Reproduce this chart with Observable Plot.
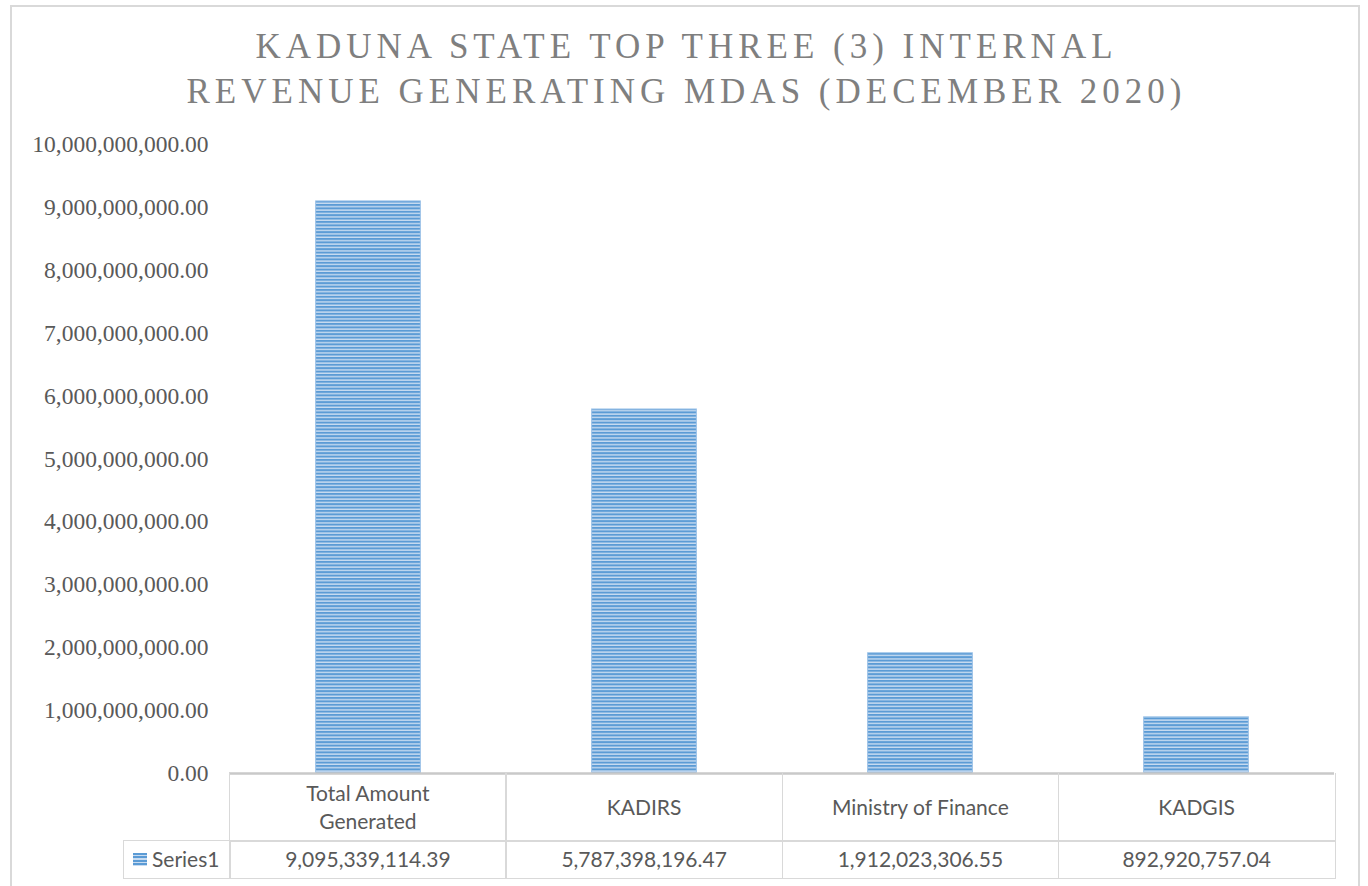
<!DOCTYPE html>
<html>
<head>
<meta charset="utf-8">
<script src="https://cdn.jsdelivr.net/npm/d3@7"></script>
<script src="https://cdn.jsdelivr.net/npm/@observablehq/plot@0.6"></script>
<style>
  html, body { margin: 0; padding: 0; background: #fff; overflow: hidden; }
  #chart { position: relative; width: 1368px; height: 886px; overflow: hidden; }
  #border { position: absolute; left: 10px; top: 5px; width: 1350px; height: 900px; border: 2px solid #d9d9d9; box-sizing: border-box; }
  .title { position: absolute; left: 0; width: 1368px; text-align: center; font-family: "Liberation Serif", serif; font-size: 35px; line-height: 45px; letter-spacing: 5px; color: #7f7f7f; white-space: nowrap; padding-left: 5px; box-sizing: border-box; }
  #plot { position: absolute; left: 0; top: 0; }
  .cell { position: absolute; box-sizing: border-box; border: 1.5px solid #d9d9d9; display: flex; align-items: center; justify-content: center; text-align: center; font-family: Lato, "Open Sans", sans-serif; font-size: 21px; line-height: 28px; color: #595959; }
  .cell span.wrap { max-width: 205px; }
  .key { display: inline-block; width: 14px; height: 13px; margin-right: 5px; background: repeating-linear-gradient(#5b9bd5 0 2px, #c9dcf1 2px 3.4px); }
</style>
</head>
<body>
<div id="chart">
  <div id="border"></div>
  <div id="plot"></div>
</div>
<script>
// ---- data ----
const titleLines = ["KADUNA STATE TOP THREE (3) INTERNAL", "REVENUE GENERATING MDAS (DECEMBER 2020)"];
const categories = ["Total Amount Generated", "KADIRS", "Ministry of Finance", "KADGIS"];
const values = [9095339114.39, 5787398196.47, 1912023306.55, 892920757.04];
const valueLabels = ["9,095,339,114.39", "5,787,398,196.47", "1,912,023,306.55", "892,920,757.04"];
const seriesName = "Series1";
const yTicks = [0, 1e9, 2e9, 3e9, 4e9, 5e9, 6e9, 7e9, 8e9, 9e9, 10e9];

const data = categories.map((c, i) => ({category: c, value: values[i]}));

// ---- layout ----
const W = 1368, H = 790;
const mL = 229, mR = 34, mT = 144, mB = H - 773;
const bw = (W - mL - mR) / categories.length;
const barW = 105;

const chart = Plot.plot({
  width: W,
  height: H,
  marginLeft: mL,
  marginRight: mR,
  marginTop: mT,
  marginBottom: mB,
  style: {background: "transparent", fontFamily: "'Liberation Serif', serif", fontSize: "23.5px", color: "#595959", overflow: "visible"},
  x: {domain: categories, padding: 0, axis: null},
  y: {domain: [0, 10e9]},
  marks: [
    Plot.axisY(yTicks, {tickFormat: d3.format(",.2f"), tickSize: 0, tickPadding: 21, label: null, fill: "#595959"}),
    Plot.barY(data, {x: "category", y: "value", fill: "url(#stripes)", stroke: "#9cc2e8", strokeWidth: 1, insetLeft: (bw - barW) / 2, insetRight: (bw - barW) / 2}),
    Plot.ruleY([0], {stroke: "#c9c9c9", strokeWidth: 2.5})
  ]
});

// stripe pattern
const svg = d3.select(chart);
const defs = svg.insert("defs", ":first-child");
const pat = defs.append("pattern").attr("id", "stripes").attr("patternUnits", "userSpaceOnUse")
  .attr("width", 8).attr("height", 3.4);
pat.append("rect").attr("width", 8).attr("height", 3.4).attr("fill", "#c9dcf1");
pat.append("rect").attr("width", 8).attr("height", 2).attr("fill", "#5b9bd5");

document.getElementById("plot").appendChild(chart);

// ---- title ----
const root = d3.select("#chart");
titleLines.forEach((t, i) => {
  root.append("div").attr("class", "title").style("top", (24 + i * 45) + "px").text(t);
});

// ---- data table ----
const y = chart.scale("y");
const axisY = Math.round(y.apply(0));
const row1Top = axisY, row1H = 67, row2H = 37;
const legendLeft = 123;

categories.forEach((c, i) => {
  const left = mL + i * bw;
  root.append("div").attr("class", "cell")
    .style("left", left + "px").style("top", row1Top + "px")
    .style("width", (bw + 1.5) + "px").style("height", (row1H + 1.5) + "px")
    .style("border-top", "none")
    .append("span").attr("class", "wrap").text(c);
  root.append("div").attr("class", "cell")
    .style("left", left + "px").style("top", (row1Top + row1H) + "px")
    .style("width", (bw + 1.5) + "px").style("height", (row2H + 1.5) + "px")
    .text(valueLabels[i]);
});
const leg = root.append("div").attr("class", "cell")
  .style("left", legendLeft + "px").style("top", (row1Top + row1H) + "px")
  .style("width", (mL - legendLeft + 1.5) + "px").style("height", (row2H + 1.5) + "px")
  .style("justify-content", "flex-start").style("padding-left", "9px");
leg.append("span").attr("class", "key");
leg.append("span").text(seriesName);
</script>
</body>
</html>
